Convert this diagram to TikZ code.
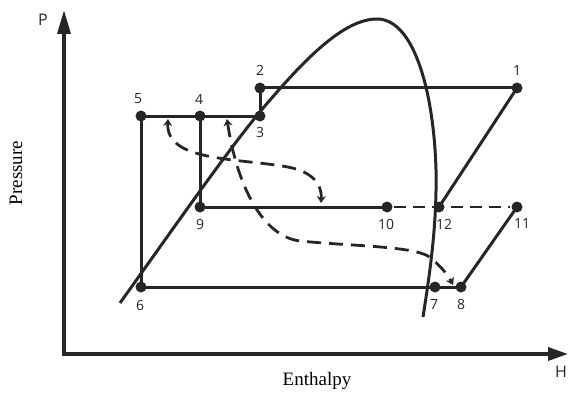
\documentclass[tikz,border=0pt]{standalone}
\usepackage{fontspec}
\setmainfont{Liberation Serif}
\newfontfamily\lblfont{Open Sans}
\usetikzlibrary{arrows.meta}
\definecolor{ink}{HTML}{262626}
\begin{document}
\begin{tikzpicture}[x=1pt,y=-1pt,
  line width=3pt, draw=ink,
  dotpt/.style={circle, fill=ink, inner sep=0pt, minimum size=11pt},
  lab/.style={font=\lblfont\fontsize{14}{14}\selectfont, text=ink, inner sep=0pt},
  axis/.style={line width=3.4pt, draw=ink},
  flow/.style={line width=2.8pt, dash pattern=on 14pt off 8pt},
]
\useasboundingbox (0,0) rectangle (569,393);

% axes
\coordinate (ptop) at (64,10);
\coordinate (org) at (64,354);
\coordinate (hend) at (568,354);
\draw[axis, {Triangle[length=24pt,width=13pt]}-{Triangle[length=20pt,width=13pt]}] (ptop) -- (org) -- (hend);
\node[font=\lblfont\fontsize{16}{16}\selectfont, text=ink] (plab) at (43,20) {P};
\node[font=\lblfont\fontsize{16}{16}\selectfont, text=ink] (hlab) at (561,372) {H};
\node[font=\fontsize{19}{19}\selectfont, rotate=90] (press) at (16,173) {Pressure};
\node[font=\fontsize{19}{19}\selectfont] (enth) at (317,381) {Enthalpy};

% saturation dome
\draw (120,303) .. controls (190,205) and (235,140) .. (270,100)
      .. controls (308,56) and (345,19) .. (377,19)
      .. controls (415,19) and (434,95) .. (436,170)
      .. controls (437,225) and (430,272) .. (423,317);

% state points
\node[dotpt] (p1) at (517,88) {};
\node[dotpt] (p2) at (260,88) {};
\node[dotpt] (p3) at (260,116) {};
\node[dotpt] (p4) at (200,116) {};
\node[dotpt] (p5) at (141,116) {};
\node[dotpt] (p6) at (141,287) {};
\node[dotpt] (p7) at (435,287) {};
\node[dotpt] (p8) at (461,287) {};
\node[dotpt] (p9) at (200,207) {};
\node[dotpt] (p10) at (387,207) {};
\node[dotpt] (p11) at (517,207) {};
\node[dotpt] (p12) at (439,207) {};

% labels
\node[lab] (l1) at (517,71) {1};
\node[lab] (l2) at (260,70) {2};
\node[lab] (l3) at (260,132) {3};
\node[lab] (l4) at (199,99) {4};
\node[lab] (l5) at (138,99) {5};
\node[lab] (l6) at (140,305) {6};
\node[lab] (l7) at (434,304) {7};
\node[lab] (l8) at (461,304) {8};
\node[lab] (l9) at (200,224) {9};
\node[lab] (l10) at (386,224) {10};
\node[lab] (l11) at (522,224) {11};
\node[lab] (l12) at (444,224) {12};

% cycle lines
\draw (p2.center) -- (p1.center);
\draw (p2.center) -- (p3.center);
\draw (p5.center) -- (p3.center);
\draw (p5.center) -- (p6.center);
\draw (p4.center) -- (p9.center);
\draw (p9.center) -- (p10.center);
\draw (p6.center) -- (p8.center);
\draw (p12.center) -- (p1.center);
\draw (p11.center) -- (p8.center);
\draw[dash pattern=on 12pt off 7pt, line width=2.4pt] (p10) -- (p11);

% dashed flow curves
\coordinate (a0) at (168,119);
\coordinate (a1) at (321,203);
\draw[flow, {Stealth[length=7pt,width=9pt]}-{Stealth[length=7pt,width=9pt]}]
  (a0) .. controls (166,160) and (230,158) .. (282,166)
       .. controls (310,170) and (322,182) .. (a1);
\coordinate (b0) at (227,119);
\coordinate (b1) at (453,285);
\draw[flow, {Stealth[length=7pt,width=9pt]}-{Stealth[length=7pt,width=9pt]}]
  (b0) .. controls (236,180) and (260,236) .. (300,241)
       .. controls (350,246) and (410,246) .. (428,256)
       .. controls (440,265) and (448,275) .. (b1);
\end{tikzpicture}
\end{document}
